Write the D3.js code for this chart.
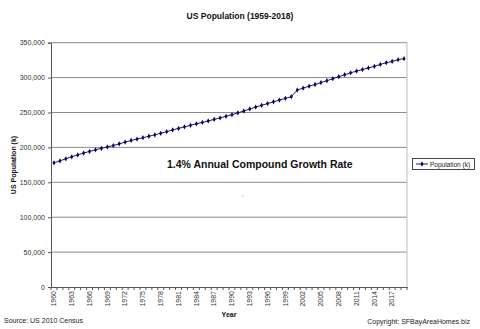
<!DOCTYPE html>
<html><head><meta charset="utf-8">
<script src="https://cdn.jsdelivr.net/npm/d3@7"></script>
<style>body{margin:0;background:#fff}svg{display:block;font-family:"Liberation Sans",Arial,sans-serif}</style>
</head><body><svg id="c" width="480" height="329"></svg>
<script>
const years = d3.range(1960, 2020).map(String);
const population = [177830,180671,183691,186538,189242,191889,194303,196560,198712,200706,
202677,205052,207661,209896,211909,213854,215973,218035,220239,222585,
225055,227225,229466,231664,233792,235825,237924,240133,242289,244499,
246819,249464,252153,255030,257783,260327,262803,265229,267784,270248,
272691,282162,284969,287625,290108,292805,295517,298380,301231,304094,
306772,309327,311583,313874,316129,318857,321419,323128,325719,327167];
const yTicks = [0,50000,100000,150000,200000,250000,300000,350000];
const xLabelYears = years.filter((d,i)=>i%3===0);

const svg = d3.select("#c");
const m = {l:51, r:407, t:42.7, b:287};
const x = d3.scaleBand().domain(years).range([m.l, m.r]);
const y = d3.scaleLinear().domain([0,350000]).range([m.b, m.t]);

svg.append("g").selectAll("line").data(yTicks.slice(1)).join("line")
  .attr("x1", m.l).attr("x2", m.r).attr("y1", d=>y(d)).attr("y2", d=>y(d))
  .attr("stroke", "#8a8a8a").attr("stroke-width", 1);
svg.append("line").attr("x1", m.r).attr("x2", m.r).attr("y1", m.t).attr("y2", m.b)
  .attr("stroke", "#bdbdbd");

const ya = svg.append("g").attr("transform", `translate(${m.l},0)`)
  .call(d3.axisLeft(y).tickValues(yTicks).tickSize(3).tickPadding(3).tickFormat(d3.format(",")));
ya.select(".domain").attr("stroke", "#555");
ya.selectAll(".tick line").attr("stroke", "#555");
ya.selectAll("text").attr("font-size", 7).attr("fill", "#333").attr("font-family", "inherit");

const xa = svg.append("g").attr("transform", `translate(0,${m.b})`)
  .call(d3.axisBottom(x).tickSize(0).tickFormat(d => xLabelYears.includes(d) ? d : ""));
xa.select(".domain").attr("stroke", "#555");
xa.selectAll(".tick line").remove();
xa.selectAll("text").attr("font-size", 7).attr("fill", "#333").attr("font-family", "inherit")
  .attr("transform", "rotate(-90)").attr("text-anchor", "end").attr("dy", "0.32em")
  .attr("x", -4).attr("y", 0);
svg.append("g").selectAll("line").data(years.concat(["end"])).join("line")
  .attr("x1", (d,i)=> m.l + i*x.step()).attr("x2", (d,i)=> m.l + i*x.step())
  .attr("y1", m.b).attr("y2", m.b+3).attr("stroke", "#555");

const line = d3.line().x((d,i)=>x(years[i]) + x.bandwidth()/2).y(d=>y(d));
svg.append("path").datum(population).attr("d", line)
  .attr("fill","none").attr("stroke","#1a1a80").attr("stroke-width",1);
svg.append("g").selectAll("path").data(population).join("path")
  .attr("transform", (d,i)=>`translate(${x(years[i]) + x.bandwidth()/2},${y(d)})`)
  .attr("d", d3.symbol(d3.symbolDiamond, 8)).attr("fill", "#0a0a50");

svg.append("text").attr("x", 240).attr("y", 19).attr("text-anchor","middle")
  .attr("font-size", 8.5).attr("font-weight","bold").attr("fill","#111").text("US Population (1959-2018)");
svg.append("text").attr("transform","translate(16,165) rotate(-90)").attr("text-anchor","middle")
  .attr("font-size", 7).attr("font-weight","bold").attr("fill","#111").text("US Population (k)");
svg.append("text").attr("x", 229).attr("y", 317).attr("text-anchor","middle")
  .attr("font-size", 7).attr("font-weight","bold").attr("fill","#111").text("Year");
svg.append("text").attr("x", 167).attr("y", 168)
  .attr("font-size", 10.5).attr("font-weight","bold").attr("fill","#111").text("1.4% Annual Compound Growth Rate");
svg.append("text").attr("x", 4).attr("y", 323)
  .attr("font-size", 7).attr("fill","#222").text("Source:  US 2010 Census");
svg.append("text").attr("x", 470).attr("y", 324).attr("text-anchor","end")
  .attr("font-size", 7).attr("fill","#222").text("Copyright:  SFBayAreaHomes.biz");
svg.append("circle").attr("cx",243).attr("cy",196).attr("r",0.7).attr("fill","#aaa");

const lg = svg.append("g");
lg.append("rect").attr("x", 412.5).attr("y", 158.5).attr("width", 62).attr("height", 11)
  .attr("fill","#fff").attr("stroke","#444");
lg.append("line").attr("x1", 416).attr("x2", 428).attr("y1", 164).attr("y2", 164)
  .attr("stroke","#1a1a80");
lg.append("path").attr("transform","translate(422,164)").attr("d", d3.symbol(d3.symbolDiamond, 8)).attr("fill","#0a0a50");
lg.append("text").attr("x", 430).attr("y", 166.5).attr("font-size", 6.5).attr("fill","#222").text("Population (k)");
</script></body></html>
